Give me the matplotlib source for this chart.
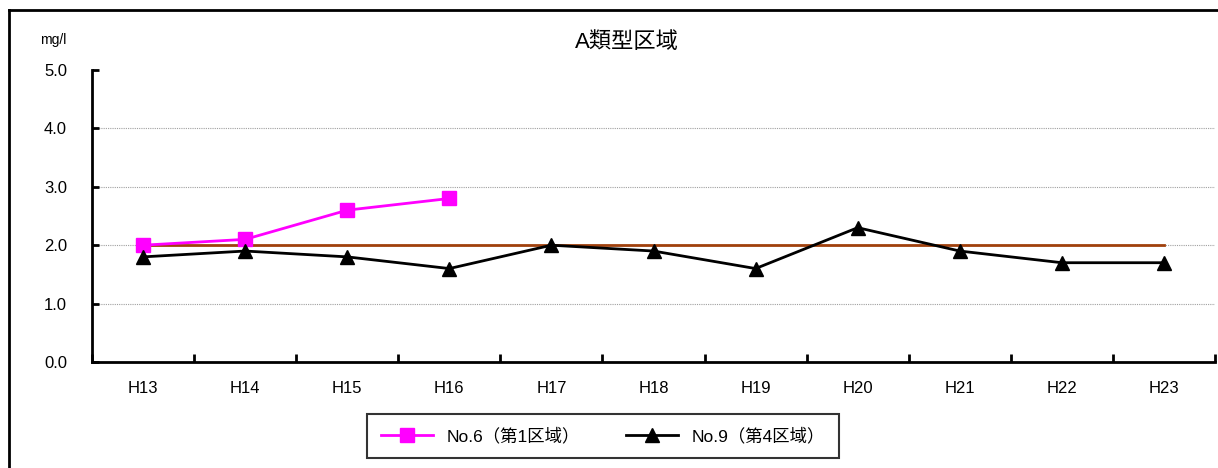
import matplotlib
matplotlib.use("Agg")
import matplotlib.pyplot as plt
from matplotlib.lines import Line2D

plt.rcParams['font.family'] = ['Liberation Sans', 'Noto Sans CJK JP', 'DejaVu Sans']

years = ["H13", "H14", "H15", "H16", "H17", "H18", "H19", "H20", "H21", "H22", "H23"]
no6 = [2.0, 2.1, 2.6, 2.8]
no9 = [1.8, 1.9, 1.8, 1.6, 2.0, 1.9, 1.6, 2.3, 1.9, 1.7, 1.7]
standard = [2.0] * len(years)
yticks = [0.0, 1.0, 2.0, 3.0, 4.0, 5.0]
title = "A類型区域"
unit = "mg/l"
label6 = "No.6（第1区域）"
label9 = "No.9（第4区域）"

W, H = 1218, 468
fig = plt.figure(figsize=(W / 100, H / 100), dpi=100)
ax = fig.add_axes([92 / W, 1 - 362 / H, (1215 - 92) / W, (362 - 70) / H])

x = list(range(len(years)))
ax.plot(x, standard, color="#A0400C", lw=2, zorder=2)
ax.plot(x[:len(no6)], no6, color="#FF00FF", lw=2, marker="s", ms=10, zorder=3)
ax.plot(x, no9, color="black", lw=2, marker="^", ms=10, zorder=4)

ax.set_xlim(-0.5, len(years) - 0.5)
ax.set_ylim(0, 5)
ax.set_yticks(yticks)
ax.set_yticklabels([f"{v:.1f}" for v in yticks], fontsize=12)
ax.set_xticks(x)
ax.set_xticklabels(years, fontsize=12)
ax.set_xticks([i - 0.5 for i in range(len(years) + 1)], minor=True)
ax.tick_params(axis="x", which="major", length=0, pad=14)
ax.tick_params(axis="x", which="minor", length=6, width=2, direction="in")
ax.tick_params(axis="y", length=5, width=2, direction="in", pad=18)
for v in yticks[1:-1]:
    ax.axhline(v, color="#A0A0A0", lw=0.8, ls=(0, (1, 1)), zorder=1)
for s in ["top", "right"]:
    ax.spines[s].set_visible(False)
for s in ["left", "bottom"]:
    ax.spines[s].set_linewidth(2)

fig.text(53 / W, 1 - 40 / H, unit, fontsize=10, ha="center", va="center")
fig.text(627 / W, 1 - 42 / H, title, fontsize=16, ha="center", va="center")

# figure frame
fig.add_artist(Line2D([9 / W, 9 / W], [0, 1 - 10 / H], transform=fig.transFigure, color="black", lw=2))
fig.add_artist(Line2D([9 / W, 1], [1 - 10 / H, 1 - 10 / H], transform=fig.transFigure, color="black", lw=2))

handles = [Line2D([], [], color="#FF00FF", lw=2, marker="s", ms=10),
           Line2D([], [], color="black", lw=2, marker="^", ms=10)]
leg = fig.legend(handles, [label6, label9], ncol=2, loc="center",
                 bbox_to_anchor=(603 / W, 1 - 436 / H), fontsize=12.5,
                 frameon=True, fancybox=False, edgecolor="black",
                 handlelength=3.0, columnspacing=2.6, borderpad=0.8)
leg.get_frame().set_linewidth(1.5)

fig.savefig("out.png", dpi=100)
